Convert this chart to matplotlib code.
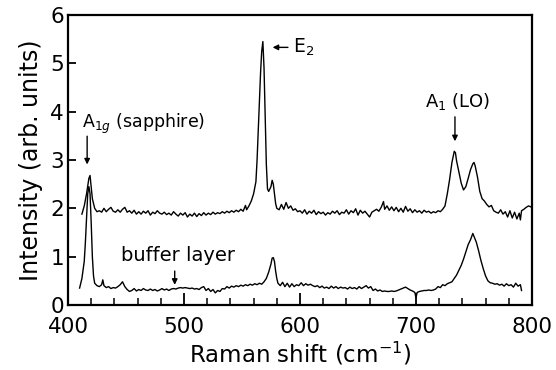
import matplotlib
matplotlib.use("Agg")
import matplotlib.pyplot as plt
from matplotlib.ticker import MultipleLocator

# ---- data ----
upper_x = [412, 414, 416, 418, 419, 420, 421, 423, 425, 427, 429, 431, 433, 435, 437, 439,
           441, 443, 445, 447, 449, 451, 453, 455, 457, 459, 461, 463, 465, 467, 469, 471,
           473, 475, 477, 479, 481, 483, 485, 487, 489, 491, 493, 495, 497, 499, 501, 503,
           505, 507, 509, 511, 513, 515, 517, 519, 521, 523, 525, 527, 529, 531, 533, 535,
           537, 539, 541, 543, 545, 547, 549, 551, 553, 554, 556, 558, 560, 562, 563, 564,
           565, 566, 567, 568, 569, 570, 571, 572, 573, 575, 576, 577, 578, 579, 580, 582,
           584, 586, 588, 590, 592, 594, 596, 598, 600, 602, 604, 606, 608, 610, 612, 614,
           616, 618, 620, 622, 624, 626, 628, 630, 632, 634, 636, 638, 640, 642, 644, 646,
           648, 650, 652, 654, 656, 658, 660, 662, 664, 666, 668, 670, 672, 673, 675, 677,
           679, 681, 683, 685, 687, 689, 691, 693, 695, 697, 699, 701, 703, 705, 707, 709,
           711, 713, 715, 717, 719, 721, 723, 725, 727, 729, 731, 733, 734, 735, 737, 739,
           741, 743, 745, 747, 749, 750, 751, 753, 755, 757, 759, 761, 763, 765, 767, 769,
           771, 773, 775, 777, 779, 781, 783, 785, 787, 789, 790, 791, 793, 795, 797, 799, 800]
upper_y = [1.88, 2.05, 2.30, 2.62, 2.68, 2.45, 2.20, 2.00, 1.93, 1.95, 1.92, 2.00, 1.93, 1.98, 2.02, 1.94,
           1.92, 1.97, 1.92, 1.98, 2.02, 1.92, 1.95, 1.90, 1.96, 1.88, 1.93, 1.88, 1.94, 1.90, 1.95, 1.86,
           1.92, 1.89, 1.95, 1.90, 1.88, 1.92, 1.87, 1.90, 1.86, 1.93, 1.88, 1.84, 1.90, 1.86, 1.91, 1.82,
           1.88, 1.84, 1.90, 1.83, 1.89, 1.85, 1.91, 1.86, 1.90, 1.87, 1.92, 1.88, 1.91, 1.89, 1.93, 1.90,
           1.94, 1.91, 1.95, 1.92, 1.96, 1.93, 1.98, 1.94, 2.06, 1.97, 2.05, 2.15, 2.30, 2.55, 3.00, 3.60,
           4.20, 4.80, 5.25, 5.45, 4.90, 3.90, 2.90, 2.40, 2.35, 2.45, 2.58, 2.50, 2.30, 2.10, 2.00, 1.97,
           2.08, 1.98, 2.12, 2.00, 2.05, 1.96, 1.99, 1.93, 1.95, 1.90, 1.97, 1.88, 1.94, 1.90, 1.96, 1.87,
           1.93, 1.89, 1.92, 1.86, 1.91, 1.88, 1.94, 1.90, 1.95, 1.87, 1.92, 1.90, 1.97, 1.88, 1.95, 1.91,
           1.99, 1.86, 1.96, 1.90, 1.94, 1.88, 1.82, 1.92, 1.95, 1.98, 1.94, 2.02, 2.14, 1.98, 2.05, 1.96,
           2.03, 1.95, 2.02, 1.93, 2.00, 1.92, 2.04, 1.94, 1.99, 1.91, 1.97, 1.92, 1.95, 1.90, 1.96, 1.92,
           1.94, 1.90, 1.93, 1.91, 1.95, 1.93, 1.98, 2.05, 2.30, 2.60, 2.95, 3.18, 3.15, 2.98, 2.75, 2.52,
           2.38, 2.45, 2.62, 2.80, 2.92, 2.95, 2.88, 2.65, 2.35, 2.20, 2.15, 2.08, 2.03, 2.06, 1.95, 1.92,
           1.90, 1.97, 1.88, 1.93, 1.82, 1.95, 1.80, 1.92, 1.78, 1.90, 1.76, 1.95, 1.98, 2.02, 2.05, 2.03, 2.02]

lower_x = [410, 412, 414, 415, 416, 417, 418, 419, 420, 421, 422, 423, 425, 427, 429, 430,
           431, 433, 435, 437, 439, 441, 443, 445, 447, 449, 451, 453, 455, 457, 459, 461,
           463, 465, 467, 469, 471, 473, 475, 477, 479, 481, 483, 485, 487, 489, 491, 493,
           495, 497, 499, 501, 503, 505, 507, 509, 511, 513, 515, 517, 519, 521, 523, 525,
           527, 529, 531, 533, 535, 537, 539, 541, 543, 545, 547, 549, 551, 553, 555, 557,
           559, 561, 563, 565, 567, 569, 571, 573, 575, 576, 577, 578, 579, 580, 581, 583,
           585, 587, 589, 591, 593, 595, 597, 599, 601, 603, 605, 607, 609, 611, 613, 615,
           617, 619, 621, 623, 625, 627, 629, 631, 633, 635, 637, 639, 641, 643, 645, 647,
           649, 651, 653, 655, 657, 659, 661, 663, 665, 667, 669, 671, 673, 675, 677, 679,
           681, 683, 685, 687, 689, 691, 693, 695, 697, 699, 700, 701, 703, 705, 707, 709,
           711, 713, 715, 717, 719, 721, 723, 725, 727, 729, 731, 733, 735, 737, 739, 741,
           743, 745, 747, 749, 750, 752, 754, 756, 758, 760, 762, 764, 766, 768, 770, 772,
           774, 776, 778, 780, 782, 784, 786, 788, 790, 791]
lower_y = [0.35, 0.55, 0.90, 1.30, 1.80, 2.30, 2.45, 2.30, 1.70, 1.00, 0.60, 0.45, 0.40, 0.38, 0.42, 0.52,
           0.40, 0.36, 0.38, 0.34, 0.36, 0.35, 0.38, 0.42, 0.48, 0.38, 0.32, 0.28, 0.30, 0.34, 0.29, 0.32,
           0.30, 0.34, 0.31, 0.30, 0.33, 0.30, 0.32, 0.29, 0.31, 0.34, 0.31, 0.33, 0.30, 0.33, 0.34, 0.33,
           0.35, 0.36, 0.35, 0.36, 0.35, 0.34, 0.35, 0.33, 0.34, 0.32, 0.36, 0.38, 0.30, 0.34, 0.28, 0.32,
           0.25, 0.30, 0.28, 0.34, 0.33, 0.38, 0.35, 0.39, 0.37, 0.40, 0.38, 0.41, 0.39, 0.42, 0.40, 0.43,
           0.41, 0.44, 0.42, 0.45, 0.43, 0.48, 0.55, 0.68, 0.85, 0.97, 0.98, 0.90, 0.70, 0.55, 0.45, 0.40,
           0.47, 0.38, 0.45, 0.37, 0.44, 0.38, 0.42, 0.40, 0.46, 0.40, 0.44, 0.41, 0.43, 0.40, 0.38, 0.40,
           0.36, 0.39, 0.35, 0.37, 0.34, 0.39, 0.35, 0.38, 0.34, 0.37, 0.35, 0.36, 0.33, 0.37, 0.34, 0.36,
           0.33, 0.38, 0.34, 0.37, 0.40, 0.35, 0.38, 0.30, 0.33, 0.29, 0.31, 0.28, 0.29, 0.28, 0.28, 0.29,
           0.28, 0.29, 0.31, 0.33, 0.35, 0.37, 0.34, 0.31, 0.29, 0.26, 0.15, 0.26, 0.28, 0.29, 0.30, 0.30,
           0.31, 0.30, 0.31, 0.33, 0.38, 0.36, 0.42, 0.40, 0.44, 0.46, 0.48, 0.55, 0.62, 0.72, 0.82, 0.95,
           1.10, 1.25, 1.35, 1.48, 1.42, 1.30, 1.12, 0.92, 0.75, 0.60, 0.50, 0.46, 0.45, 0.43, 0.44, 0.41,
           0.43, 0.39, 0.44, 0.40, 0.42, 0.37, 0.45, 0.39, 0.42, 0.30]

x_ticks = [400, 500, 600, 700, 800]
y_ticks = [0, 1, 2, 3, 4, 5, 6]

# ---- figure ----
plt.rcParams['font.family'] = ['DejaVu Sans']
fig = plt.figure(figsize=(5.56, 3.70), dpi=100)
ax = fig.add_axes([0.1223, 0.1757, 0.8345, 0.7838])

ax.plot(upper_x, upper_y, color='black', lw=1.0)
ax.plot(lower_x, lower_y, color='black', lw=1.0)

ax.set_xlim(400, 800)
ax.set_ylim(0, 6)
ax.set_xticks(x_ticks)
ax.set_yticks(y_ticks)
ax.xaxis.set_minor_locator(MultipleLocator(20))

for s in ax.spines.values():
    s.set_linewidth(1.6)

ax.tick_params(axis='x', which='major', direction='in', length=9, width=1.3,
               labelsize=15.5, pad=9, top=False)
ax.tick_params(axis='x', which='minor', direction='in', length=5, width=1.1, top=False)
ax.tick_params(axis='y', which='major', direction='in', length=6, width=1.3,
               labelsize=15.5, pad=3, right=False)

ax.set_xlabel('Raman shift (cm$^{-1}$)', fontsize=16.5, labelpad=2)
ax.set_ylabel('Intensity (arb. units)', fontsize=17, labelpad=5)

# annotations
ax.annotate('', xy=(416.5, 2.85), xytext=(416.5, 3.55),
            arrowprops=dict(arrowstyle='-|>', color='black', lw=1.0, mutation_scale=8))
ax.text(412, 3.75, 'A$_{1g}$ (sapphire)', fontsize=12.5, ha='left', va='center')

ax.annotate('', xy=(574, 5.33), xytext=(592, 5.33),
            arrowprops=dict(arrowstyle='-|>', color='black', lw=1.0, mutation_scale=8))
ax.text(594, 5.33, 'E$_2$', fontsize=13.5, ha='left', va='center')

ax.annotate('', xy=(733.6, 3.33), xytext=(733.6, 3.95),
            arrowprops=dict(arrowstyle='-|>', color='black', lw=1.0, mutation_scale=8))
ax.text(736, 4.22, 'A$_1$ (LO)', fontsize=13, ha='center', va='center')

ax.annotate('', xy=(492, 0.36), xytext=(492, 0.76),
            arrowprops=dict(arrowstyle='-|>', color='black', lw=1.0, mutation_scale=8))
ax.text(495, 1.03, 'buffer layer', fontsize=14, ha='center', va='center')

fig.savefig('out.png', dpi=100)
